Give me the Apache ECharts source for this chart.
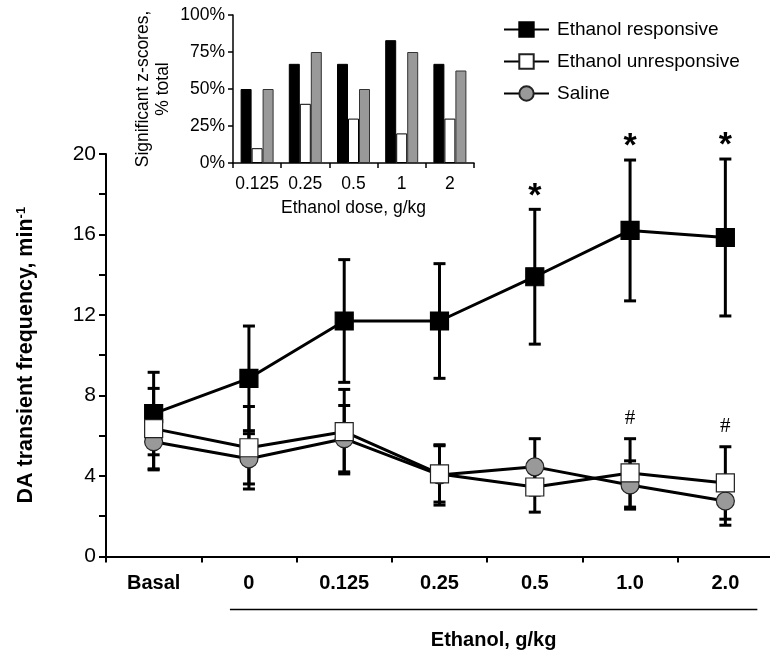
<!DOCTYPE html>
<html><head><meta charset="utf-8">
<script src="https://cdn.jsdelivr.net/npm/echarts@6/dist/echarts.min.js"></script>
<style>html,body{margin:0;padding:0;background:#fff}#c{width:770px;height:654px}</style>
</head><body><div id="c"></div>
<script>
// ---------- data ----------
const categories = ['Basal', '0', '0.125', '0.25', '0.5', '1.0', '2.0'];
const responsiveMean = [7.1, 8.85, 11.7, 11.7, 13.9, 16.2, 15.85];
const responsiveErr  = [2.05, 2.6, 3.05, 2.85, 3.35, 3.5, 3.9];
const unresponsiveMean = [6.35, 5.4, 6.2, 4.1, 3.45, 4.15, 3.65];
const unresponsiveErr  = [2.0, 2.05, 2.1, 1.4, 1.25, 1.7, 1.8];
const salineMean = [5.7, 4.85, 5.85, 4.05, 4.45, 3.55, 2.75];
const salineErr  = [1.4, 1.25, 1.65, 1.5, 1.4, 1.2, 1.2];
const starIndices = [4, 5, 6];   // * over ethanol responsive
const hashIndices = [5, 6];      // # over ethanol unresponsive

const insetCategories = ['0.125', '0.25', '0.5', '1', '2'];
const insetResponsive = [50, 67, 67, 83, 67];
const insetUnresponsive = [10, 40, 30, 20, 30];
const insetSaline = [50, 75, 50, 75, 62.5];

const yTickLabels = ['0', '4', '8', '12', '16', '20'];
const names = ['Ethanol responsive', 'Ethanol unresponsive', 'Saline'];

// ---------- helpers ----------
const FF = "'Liberation Sans', Arial, Helvetica, sans-serif";
const BLACK = '#000';
const GRAY = '#999';
const INSET_FS = 17.5;

function errData(mean, err) {
  return mean.map((m, i) => [i, m - err[i], m + err[i]]);
}
function errRender(params, api) {
  const x = api.value(0);
  const lo = api.coord([x, api.value(1)]);
  const hi = api.coord([x, api.value(2)]);
  const cw = 6;
  const st = { stroke: BLACK, lineWidth: 3 };
  return {
    type: 'group',
    children: [
      { type: 'line', shape: { x1: hi[0], y1: hi[1], x2: lo[0], y2: lo[1] }, style: st },
      { type: 'line', shape: { x1: hi[0] - cw, y1: hi[1], x2: hi[0] + cw, y2: hi[1] }, style: st },
      { type: 'line', shape: { x1: lo[0] - cw, y1: lo[1], x2: lo[0] + cw, y2: lo[1] }, style: st }
    ]
  };
}
function markRender(txt, font, size, weight, dy) {
  return function (params, api) {
    const p = api.coord([api.value(0), api.value(1)]);
    return {
      type: 'text', x: p[0], y: p[1] - dy,
      style: { text: txt, fill: BLACK, fontFamily: font, fontSize: size, fontWeight: weight,
               align: 'center', verticalAlign: 'middle' }
    };
  };
}
function errSeries(mean, err, z) {
  return { type: 'custom', xAxisIndex: 0, yAxisIndex: 0, data: errData(mean, err),
           renderItem: errRender, encode: { x: 0, y: [1, 2] }, z: z, clip: false, silent: true };
}
function lineSeries(name, mean, symbol, fill, border, z) {
  return {
    type: 'line', name: name, data: mean, xAxisIndex: 0, yAxisIndex: 0,
    symbol: symbol, symbolSize: 18, z: z,
    lineStyle: { color: BLACK, width: 3 },
    itemStyle: { color: fill, borderColor: border, borderWidth: 1.2 },
    emphasis: { disabled: true }, silent: true
  };
}

const chart = echarts.init(document.getElementById('c'), null, { renderer: 'canvas' });

const option = {
  animation: false,
  backgroundColor: '#fff',
  textStyle: { fontFamily: FF, color: BLACK },
  legend: {
    orient: 'vertical', left: 503, top: 20, padding: 0, itemWidth: 45, itemHeight: 18, itemGap: 13,
    data: names, selectedMode: false,
    textStyle: { fontFamily: FF, fontSize: 19, color: BLACK, padding: [0, 0, 0, 3] }
  },
  grid: [
    { left: 106, top: 154, width: 667, height: 402.4, outerBoundsMode: 'none', containLabel: false },
    { left: 233, top: 15, width: 241, height: 148, outerBoundsMode: 'none', containLabel: false }
  ],
  xAxis: [
    {
      type: 'category', gridIndex: 0, data: categories, boundaryGap: true,
      axisLine: { show: true, lineStyle: { color: BLACK, width: 2 } },
      axisTick: { show: true, alignWithLabel: false, length: 6, lineStyle: { color: BLACK, width: 2 } },
      axisLabel: { interval: 0, margin: 17, fontFamily: FF, fontSize: 20, fontWeight: 'bold', color: BLACK },
      splitLine: { show: false }
    },
    {
      type: 'category', gridIndex: 1, data: insetCategories, boundaryGap: true,
      axisLine: { show: true, lineStyle: { color: BLACK, width: 1.5 } },
      axisTick: { show: true, alignWithLabel: false, length: 5, lineStyle: { color: BLACK, width: 1.5 } },
      axisLabel: { interval: 0, margin: 12, fontFamily: FF, fontSize: INSET_FS, color: BLACK },
      splitLine: { show: false },
      name: 'Ethanol dose, g/kg', nameLocation: 'middle', nameGap: 36,
      nameTextStyle: { fontFamily: FF, fontSize: INSET_FS, color: BLACK }
    }
  ],
  yAxis: [
    {
      type: 'value', gridIndex: 0, min: 0, max: 20, interval: 2,
      axisLine: { show: true, lineStyle: { color: BLACK, width: 2 } },
      axisTick: { show: true, length: 7, lineStyle: { color: BLACK, width: 2 } },
      splitLine: { show: false },
      axisLabel: {
        margin: 10, fontFamily: FF, fontSize: 21, color: BLACK,
        formatter: v => (yTickLabels.indexOf(String(v)) >= 0 ? String(v) : '')
      },
      name: '{a|DA transient frequency, min}{s|-1}', nameLocation: 'middle', nameGap: 68, nameRotate: 90,
      nameTextStyle: {
        fontFamily: FF, fontSize: 21.5, fontWeight: 'bold', color: BLACK,
        rich: {
          a: { fontFamily: FF, fontSize: 21.5, fontWeight: 'bold', color: BLACK },
          s: { fontFamily: FF, fontSize: 13, fontWeight: 'bold', color: BLACK, verticalAlign: 'top', padding: [0, 0, 10, 0] }
        }
      }
    },
    {
      type: 'value', gridIndex: 1, min: 0, max: 100, interval: 25,
      axisLine: { show: true, lineStyle: { color: BLACK, width: 1.5 } },
      axisTick: { show: true, length: 5, lineStyle: { color: BLACK, width: 1.5 } },
      splitLine: { show: false },
      axisLabel: { margin: 8, fontFamily: FF, fontSize: INSET_FS, color: BLACK, formatter: '{value}%' },
      name: 'Significant z-scores,\n% total', nameLocation: 'middle', nameGap: 60, nameRotate: 90,
      nameTextStyle: { fontFamily: FF, fontSize: INSET_FS, color: BLACK, lineHeight: 20, align: 'center' }
    }
  ],
  series: [
    errSeries(salineMean, salineErr, 2),
    errSeries(responsiveMean, responsiveErr, 2),
    errSeries(unresponsiveMean, unresponsiveErr, 2),
    lineSeries(names[2], salineMean, 'circle', GRAY, '#222', 3),
    lineSeries(names[0], responsiveMean, 'rect', BLACK, BLACK, 4),
    lineSeries(names[1], unresponsiveMean, 'rect', '#fff', '#222', 5),
    {
      type: 'custom', xAxisIndex: 0, yAxisIndex: 0, z: 6, clip: false, silent: true,
      data: starIndices.map(i => [i, responsiveMean[i] + responsiveErr[i]]),
      encode: { x: 0, y: 1 },
      renderItem: markRender('*', FF, 34, 'bold', 13)
    },
    {
      type: 'custom', xAxisIndex: 0, yAxisIndex: 0, z: 6, clip: false, silent: true,
      data: hashIndices.map(i => [i, unresponsiveMean[i] + unresponsiveErr[i]]),
      encode: { x: 0, y: 1 },
      renderItem: markRender('#', "'Liberation Serif', 'Times New Roman', serif", 21, 'normal', 20)
    },
    {
      type: 'bar', xAxisIndex: 1, yAxisIndex: 1, data: insetResponsive, barWidth: 11, barGap: '0%',
      itemStyle: { color: BLACK, borderColor: BLACK, borderWidth: 1 }, silent: true
    },
    {
      type: 'bar', xAxisIndex: 1, yAxisIndex: 1, data: insetUnresponsive, barWidth: 11, barGap: '0%',
      itemStyle: { color: '#fff', borderColor: BLACK, borderWidth: 1 }, silent: true
    },
    {
      type: 'bar', xAxisIndex: 1, yAxisIndex: 1, data: insetSaline, barWidth: 11, barGap: '0%',
      itemStyle: { color: GRAY, borderColor: '#333', borderWidth: 1 }, silent: true
    }
  ]
};
chart.setOption(option);

// bracket under the ethanol doses, placed from the axis scale
const xStart = chart.convertToPixel({ xAxisIndex: 0 }, categories[1]) - 19;
const xEnd = chart.convertToPixel({ xAxisIndex: 0 }, categories[categories.length - 1]) + 32;
const yBase = chart.convertToPixel({ yAxisIndex: 0 }, 0);
chart.setOption({
  graphic: [
    { type: 'line', shape: { x1: xStart, y1: yBase + 53, x2: xEnd, y2: yBase + 53 },
      style: { stroke: BLACK, lineWidth: 1.5 } },
    { type: 'text', x: (xStart + xEnd) / 2, y: yBase + 84,
      style: { text: 'Ethanol, g/kg', fill: BLACK, fontFamily: FF, fontSize: 20, fontWeight: 'bold',
               align: 'center', verticalAlign: 'middle' } }
  ]
});
</script>
</body></html>
